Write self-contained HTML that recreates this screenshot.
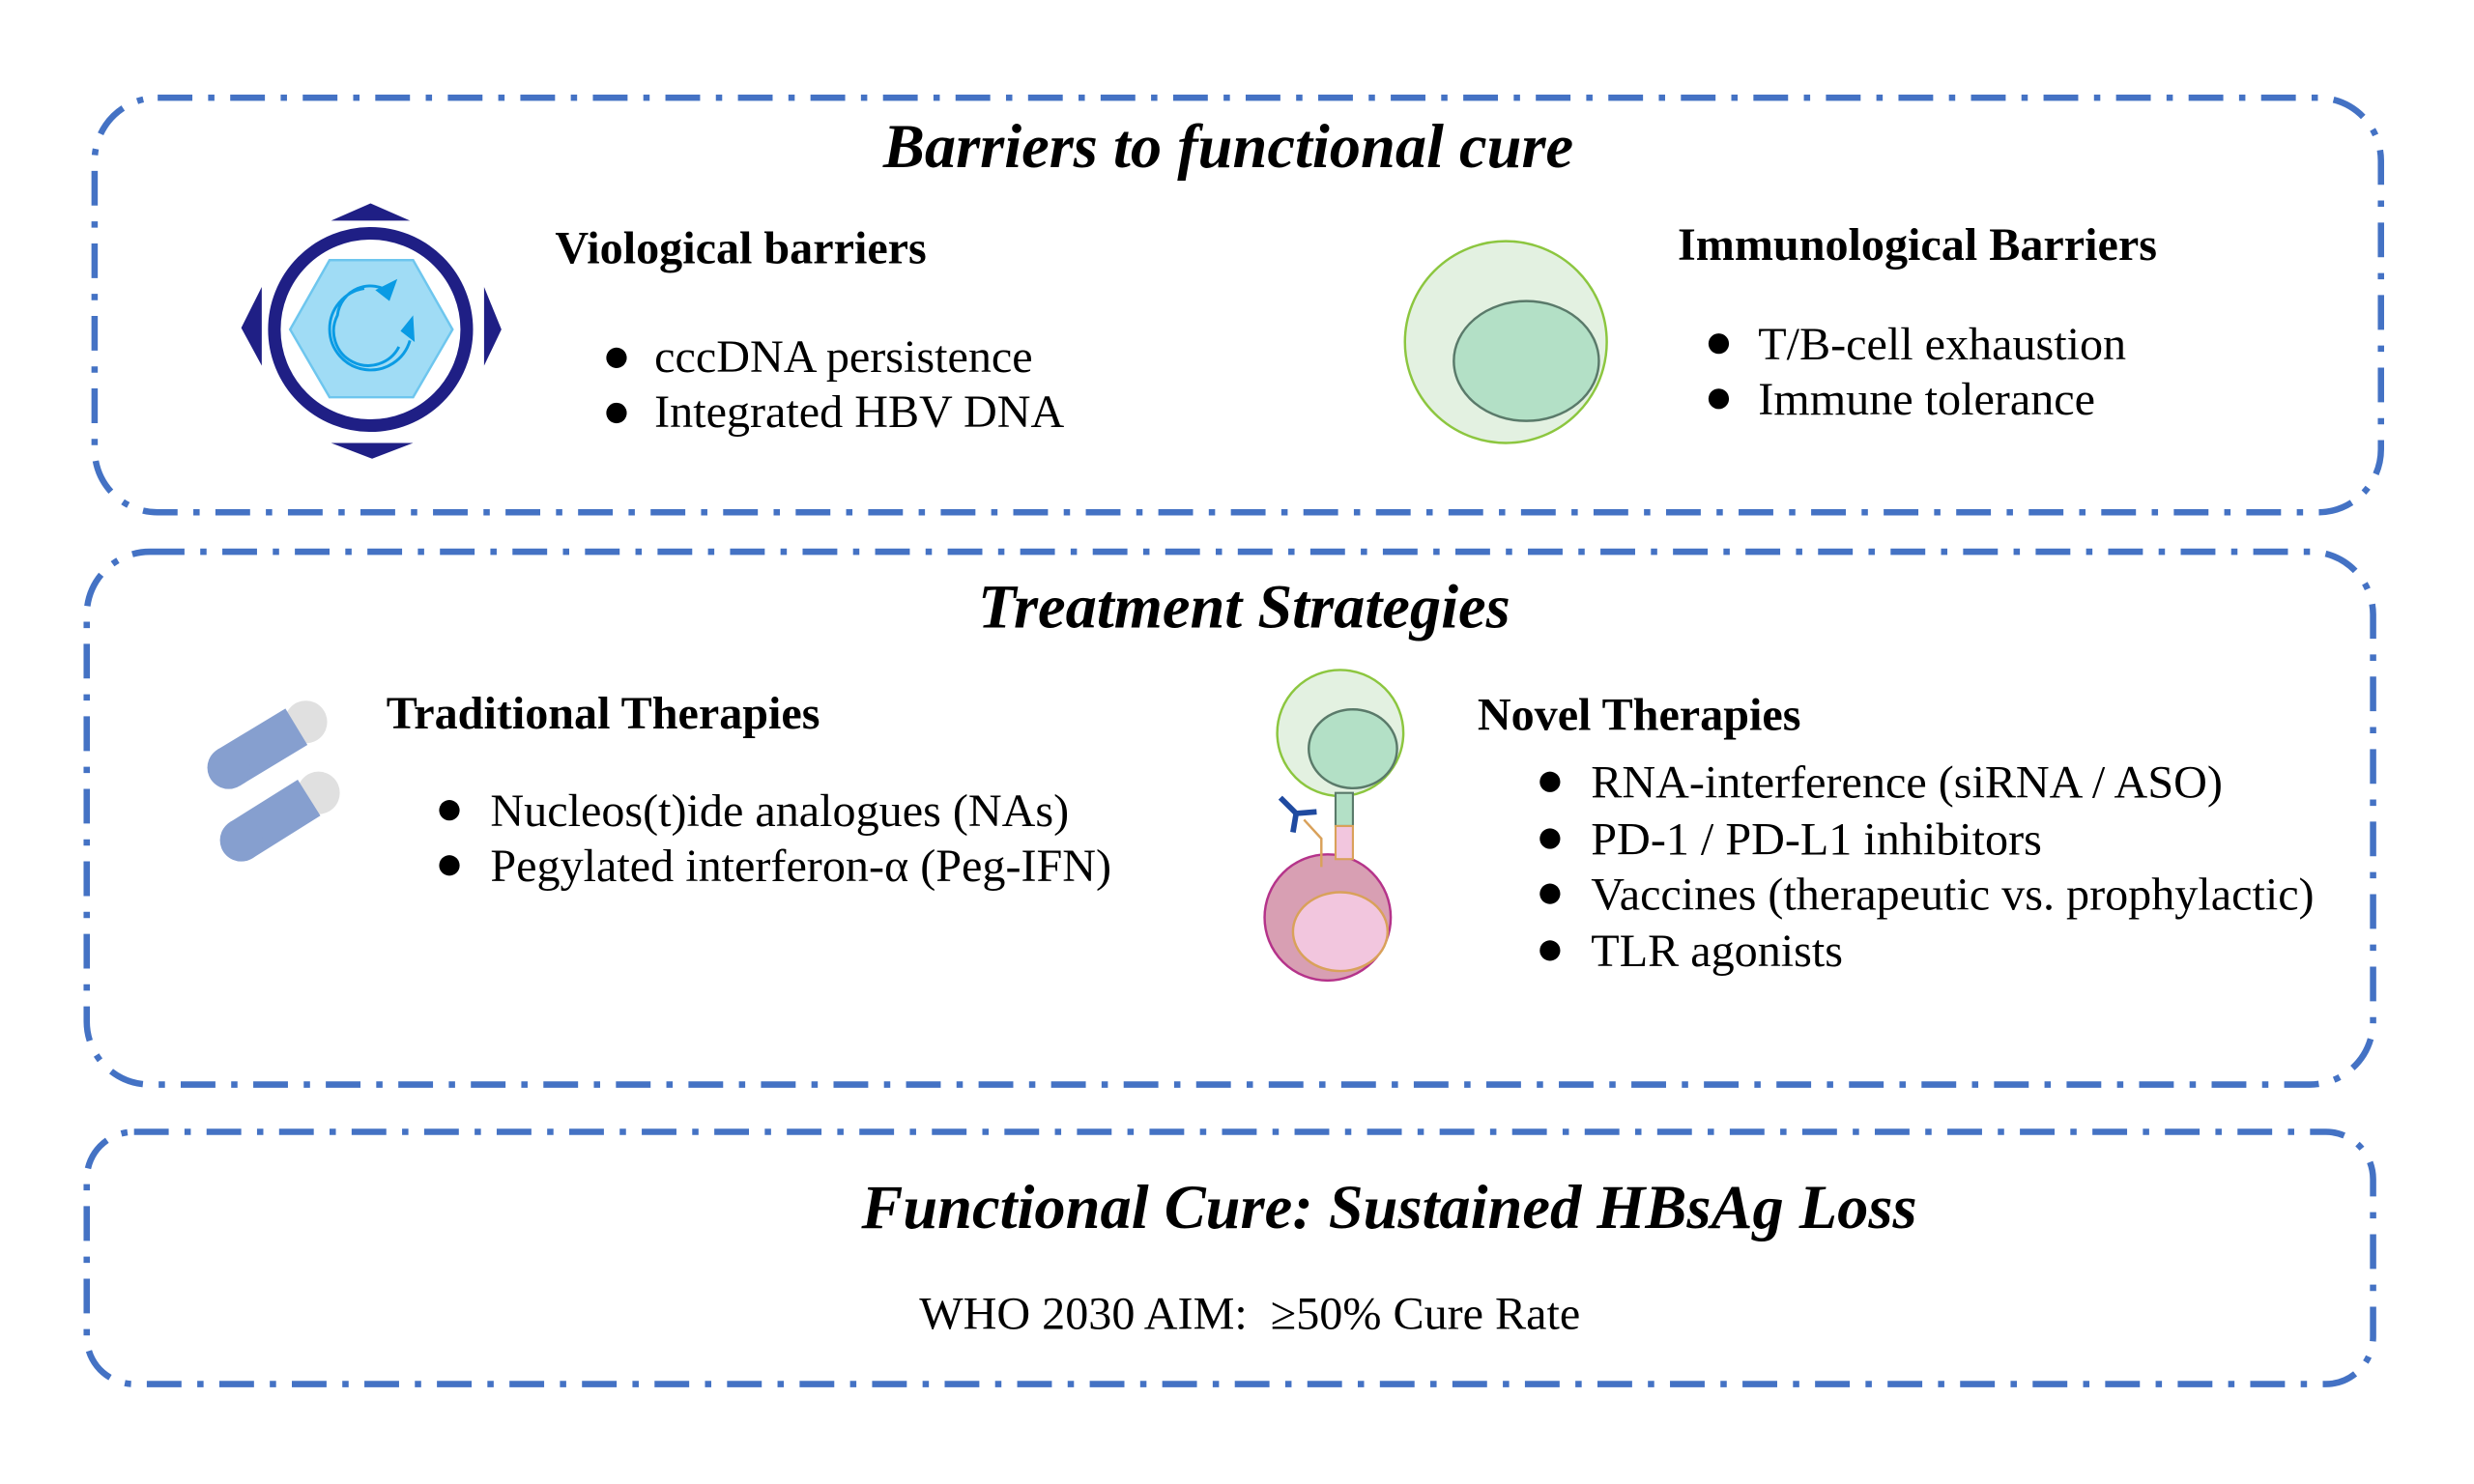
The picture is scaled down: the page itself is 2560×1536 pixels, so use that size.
<!DOCTYPE html>
<html><head><meta charset="utf-8"><style>
html,body{margin:0;padding:0;background:#fff;}
svg{display:block}
text{font-family:"Liberation Serif",serif;fill:#000}
.h{font-weight:bold;font-style:italic;font-size:39.5px}
.s{font-weight:bold;font-size:29.5px}
.b{font-size:29.5px}
</style></head><body>
<svg width="2560" height="1536" viewBox="0 0 1569 941.4" xmlns="http://www.w3.org/2000/svg">
<g fill="none" stroke="#4472c4" stroke-width="4" stroke-dasharray="22 10 4 10">
<rect x="60" y="62" width="1450" height="263" rx="40"/>
<rect x="55" y="350" width="1450" height="338" rx="40"/>
<rect x="55" y="718" width="1450" height="160" rx="30"/>
</g>
<text class="h" x="779" y="106" text-anchor="middle">Barriers to functional cure</text>
<text class="h" x="789" y="398" text-anchor="middle">Treatment Strategies</text>
<text class="h" x="881" y="779" text-anchor="middle">Functional Cure: Sustained HBsAg Loss</text>
<text class="b" x="583" y="843">WHO 2030 AIM:&#160; ≥50% Cure Rate</text>

<!-- virus icon -->
<g>
<polygon points="210,140 260,140 235,129" fill="#1f1f85"/>
<polygon points="210,281 262,281 236,291" fill="#1f1f85"/>
<polygon points="166,182 166,232 153,208" fill="#1f1f85"/>
<polygon points="307,182 307,232 318,209" fill="#1f1f85"/>
<circle cx="235" cy="209" r="61" fill="none" stroke="#1f1f85" stroke-width="8"/>
<polygon points="209,165 262,165 287,209 262,252 209,252 184,209" fill="#a0dcf5" stroke="#6ec6ee" stroke-width="1.5"/>
<path d="M231,183 A26,26 0 1 0 260,216 M248,186 A21,21 0 0 0 214,200 A21,21 0 0 0 253,220" fill="none" stroke="#0a9be4" stroke-width="1.8"/>
<polygon points="238,184 252,177 247,191" fill="#0a9be4"/>
<polygon points="262,200 263,217 254,210" fill="#0a9be4"/>
</g>
<text class="s" x="352" y="167">Viological barriers</text>
<circle cx="391" cy="227" r="6.5" fill="#000"/><text class="b" x="415" y="236">cccDNA persistence</text>
<circle cx="391" cy="262" r="6.5" fill="#000"/><text class="b" x="415" y="271">Integrated HBV DNA</text>

<circle cx="955" cy="217" r="64" fill="#e3f1e1" stroke="#8cc63f" stroke-width="1.5"/>
<ellipse cx="968" cy="229" rx="46" ry="38" fill="#b3e0c6" stroke="#5a7a6a" stroke-width="1.5"/>
<text class="s" x="1064" y="165">Immunological Barriers</text>
<circle cx="1090" cy="218" r="6.5" fill="#000"/><text class="b" x="1115" y="228">T/B-cell exhaustion</text>
<circle cx="1090" cy="253" r="6.5" fill="#000"/><text class="b" x="1115" y="263">Immune tolerance</text>

<!-- pills -->
<circle cx="194" cy="458" r="13.5" fill="#e0e0e0"/>
<line x1="145" y1="487" x2="188" y2="461" stroke="#869fcf" stroke-width="27" stroke-linecap="butt"/>
<circle cx="145" cy="487" r="13.5" fill="#869fcf"/>
<circle cx="202" cy="503" r="13.5" fill="#e0e0e0"/>
<line x1="153" y1="533" x2="196" y2="506" stroke="#869fcf" stroke-width="27" stroke-linecap="butt"/>
<circle cx="153" cy="533" r="13.5" fill="#869fcf"/>
<text class="s" x="245" y="462">Traditional Therapies</text>
<circle cx="285" cy="514" r="6.5" fill="#000"/><text class="b" x="311" y="524">Nucleos(t)ide analogues (NAs)</text>
<circle cx="285" cy="549" r="6.5" fill="#000"/><text class="b" x="311" y="559">Pegylated interferon-α (Peg-IFN)</text>

<!-- novel icon -->
<g>
<circle cx="850" cy="465" r="40" fill="#e3f1e1" stroke="#8cc63f" stroke-width="1.5"/>
<ellipse cx="858" cy="475" rx="28" ry="25" fill="#b3e0c6" stroke="#5a7a6a" stroke-width="1.5"/>
<circle cx="842" cy="582" r="40" fill="#d89fb3" stroke="#b5338a" stroke-width="1.5"/>
<ellipse cx="850" cy="591" rx="30" ry="25" fill="#f2c6de" stroke="#d9a15a" stroke-width="1.5"/>
<rect x="847" y="503" width="11" height="21" fill="#b3e0c6" stroke="#5a7a6a" stroke-width="1.3"/>
<rect x="847" y="524" width="11" height="21" fill="#f2c6de" stroke="#d9a15a" stroke-width="1.3"/>
<polyline points="827,520 838,532 838,550" fill="none" stroke="#d9a15a" stroke-width="1.5"/>
<g stroke="#1f4aa0" stroke-width="3.5" fill="none">
<line x1="812" y1="506" x2="822" y2="516"/><line x1="822" y1="516" x2="835" y2="515"/><line x1="822" y1="516" x2="820" y2="528"/>
</g>
</g>
<text class="s" x="937" y="463">Novel Therapies</text>
<circle cx="983" cy="496" r="6.5" fill="#000"/><text class="b" x="1009" y="506">RNA-interference (siRNA / ASO)</text>
<circle cx="983" cy="532" r="6.5" fill="#000"/><text class="b" x="1009" y="542">PD-1 / PD-L1 inhibitors</text>
<circle cx="983" cy="567" r="6.5" fill="#000"/><text class="b" x="1009" y="577">Vaccines (therapeutic vs. prophylactic)</text>
<circle cx="983" cy="603" r="6.5" fill="#000"/><text class="b" x="1009" y="613">TLR agonists</text>
</svg>
</body></html>
